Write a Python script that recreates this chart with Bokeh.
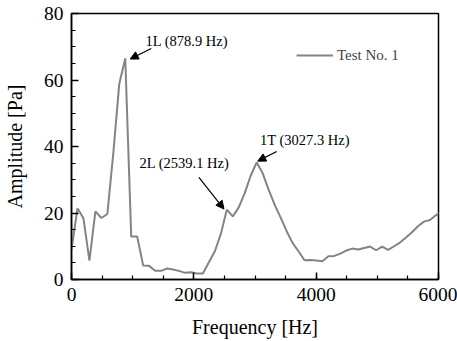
from bokeh.plotting import figure
from bokeh.models import Range1d, Label, Arrow, NormalHead, Legend, LegendItem, FixedTicker
from bokeh.embed import file_html
from bokeh.resources import INLINE

freq = [0, 97.7, 195.3, 293.0, 390.6, 488.3, 585.9, 683.6, 781.3, 878.9,
        976.6, 1074.2, 1171.9, 1269.5, 1367.2, 1464.8, 1562.5, 1660.2, 1757.8, 1855.5,
        1953.1, 2050.8, 2148.4, 2246.1, 2343.8, 2441.4, 2539.1, 2636.7, 2734.4, 2832.0,
        2929.7, 3027.3, 3125.0, 3222.7, 3320.3, 3418.0, 3515.6, 3613.3, 3710.9, 3808.6,
        3906.3, 4003.9, 4101.6, 4199.2, 4296.9, 4394.5, 4492.2, 4589.8, 4687.5, 4785.2,
        4882.8, 4980.5, 5078.1, 5175.8, 5273.4, 5371.1, 5468.8, 5566.4, 5664.1, 5761.7,
        5859.4, 5957.0, 6054.7]
amp = [9.0, 21.4, 18.4, 5.7, 20.5, 18.5, 19.7, 38.0, 58.9, 66.5,
       12.9, 12.9, 4.2, 4.1, 2.6, 2.6, 3.3, 3.0, 2.6, 2.0,
       2.2, 1.8, 1.8, 5.2, 8.5, 13.7, 21.0, 19.0, 21.7, 26.0,
       31.2, 35.2, 32.0, 27.0, 22.5, 18.7, 14.6, 11.0, 8.5, 5.8,
       5.9, 5.7, 5.5, 7.0, 7.1, 7.8, 8.7, 9.3, 9.0, 9.5,
       9.9, 8.8, 9.9, 8.9, 10.0, 11.1, 12.6, 14.2, 16.0, 17.4,
       17.9, 19.3, 20.6]

x_ticks = [0, 2000, 4000, 6000]
y_ticks = [0, 20, 40, 60, 80]
series_name = "Test No. 1"

# annotations: label text, label x/y, arrow tail, arrow head
notes = [
    ("1L (878.9 Hz)", 1211, 71.7, 1304, 69.5, 960, 66.3),
    ("2L (2539.1 Hz)", 1113, 34.9, 2083, 30.7, 2493, 21.2),
    ("1T (3027.3 Hz)", 3082, 41.9, 3355, 38.5, 3045, 35.6),
]

FONT = "Liberation Serif"

p = figure(width=457, height=341, output_backend="svg", toolbar_location=None,
           x_range=Range1d(0, 6000), y_range=Range1d(0, 80),
           min_border_left=71, min_border_right=19, min_border_top=13, min_border_bottom=62)
p.grid.visible = False
p.outline_line_color = "black"
p.outline_line_width = 1.5
p.background_fill_color = "white"
p.border_fill_color = "white"

r = p.line(freq, amp, line_color="#848484", line_width=2)

for ax in (p.xaxis[0], p.yaxis[0]):
    ax.axis_line_color = "black"
    ax.axis_line_width = 1.5
    ax.major_tick_in = 7
    ax.major_tick_out = 0
    ax.minor_tick_in = 4
    ax.minor_tick_out = 0
    ax.major_tick_line_color = "black"
    ax.minor_tick_line_color = "black"
    ax.major_tick_line_width = 1.5
    ax.minor_tick_line_width = 1.2
    ax.major_label_text_font = FONT
    ax.major_label_text_font_size = "19.5px"
    ax.major_label_text_color = "black"
    ax.axis_label_text_font = FONT
    ax.axis_label_text_font_size = "20px"
    ax.axis_label_text_font_style = "normal"
    ax.axis_label_text_color = "black"

p.xaxis.ticker = FixedTicker(ticks=x_ticks, minor_ticks=list(range(0, 6001, 500)))
p.yaxis.ticker = FixedTicker(ticks=y_ticks, minor_ticks=list(range(0, 81, 5)))
p.xaxis.axis_label = "Frequency [Hz]"
p.yaxis.axis_label = "Amplitude [Pa]"
p.xaxis.major_label_standoff = 8
p.yaxis.major_label_standoff = 8
p.xaxis.axis_label_standoff = 12
p.yaxis.axis_label_standoff = 15

for txt, lx, ly, x0, y0, x1, y1 in notes:
    p.add_layout(Label(x=lx, y=ly, text=txt, text_font=FONT, text_font_size="14.5px",
                       text_color="black", text_baseline="middle", text_align="left"))
    p.add_layout(Arrow(x_start=x0, y_start=y0, x_end=x1, y_end=y1, line_color="black",
                       line_width=1.2,
                       end=NormalHead(size=8, fill_color="black", line_color="black", line_width=1)))

legend = Legend(items=[LegendItem(label=series_name, renderers=[r])],
                location=(225, 214), padding=0, margin=0, spacing=0,
                glyph_width=37, glyph_height=20, label_standoff=4,
                label_text_font=FONT, label_text_font_size="15px",
                border_line_alpha=0, background_fill_alpha=0)
p.add_layout(legend)

open("out.html", "w").write(file_html(p, INLINE))
